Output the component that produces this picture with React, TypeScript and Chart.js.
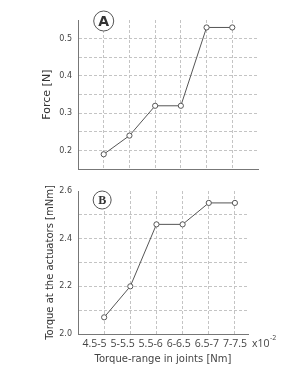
import React, { useEffect, useRef } from "react";
import { Chart, registerables } from "chart.js";

Chart.register(...registerables);

const categories = ["4.5-5", "5-5.5", "5.5-6", "6-6.5", "6.5-7", "7-7.5"];
const forceValues = [0.19, 0.24, 0.32, 0.32, 0.53, 0.53];
const torqueValues = [2.07, 2.2, 2.46, 2.46, 2.55, 2.55];
const forceTicks = [0.2, 0.3, 0.4, 0.5];
const torqueTicks = [2.0, 2.2, 2.4, 2.6];

const FONT = "'DejaVu Sans', sans-serif";
const XFONT = "'Open Sans', sans-serif";
const GRID = "#c4c4c4";
const AXIS = "#777";
const TXT = "#444";

function badge(letter: string, font: string, r: number, dy: number, dx: number) {
  return {
    id: "badge" + letter,
    afterDraw(chart: any) {
      const ctx = chart.ctx;
      const x = chart.scales.x.getPixelForValue(1) + dx;
      const y = chart.chartArea.top + dy;
      ctx.save();
      ctx.beginPath();
      ctx.arc(x, y, r, 0, Math.PI * 2);
      ctx.fillStyle = "#fff";
      ctx.fill();
      ctx.lineWidth = 1;
      ctx.strokeStyle = "#555";
      ctx.stroke();
      ctx.fillStyle = "#333";
      ctx.font = font;
      ctx.textAlign = "center";
      ctx.textBaseline = "middle";
      ctx.fillText(letter, x, y + 1);
      ctx.restore();
    },
  };
}

const expPlugin = {
  id: "exp",
  afterDraw(chart: any) {
    const ctx = chart.ctx;
    const x = chart.chartArea.right + 4;
    const y = chart.chartArea.bottom + 10;
    ctx.save();
    ctx.fillStyle = TXT;
    ctx.textBaseline = "middle";
    ctx.textAlign = "left";
    ctx.font = "10.5px " + XFONT;
    ctx.fillText("x10", x, y);
    const w = ctx.measureText("x10").width;
    ctx.font = "7px " + XFONT;
    ctx.fillText("-2", x + w + 0.5, y - 6);
    ctx.restore();
  },
};

function gridColorFn(min: number, max: number) {
  return (c: any) => {
    const v = c.tick ? c.tick.value : 0;
    if (Math.abs(v - min) < 1e-6 || Math.abs(v - max) < 1e-6) return "rgba(0,0,0,0)";
    return GRID;
  };
}

function makeConfig(opts: any) {
  const {
    values, yMin, yMax, yStep, yTicks, xMax, title, titlePad, titleSize,
    padding, xHeight, showX, plugins,
  } = opts;
  const scales: any = {
    x: {
      type: "linear",
      position: "bottom",
      weight: 1,
      min: 0,
      max: xMax,
      afterFit: (s: any) => { s.height = 0; },
      afterBuildTicks: (s: any) => {
        const t = [];
        for (let i = 0; i <= Math.floor(xMax); i++) t.push({ value: i });
        s.ticks = t;
      },
      grid: {
        drawTicks: false,
        color: gridColorFn(0, xMax),
        lineWidth: 1,
      },
      border: { display: true, color: AXIS, width: 1, dash: [3, 2] },
      ticks: { display: false },
    },
    y: {
      min: yMin,
      max: yMax,
      afterFit: (s: any) => { s.width = 78; },
      afterBuildTicks: (s: any) => {
        const t = [];
        const n = Math.round((yMax - yMin) / yStep);
        for (let i = 0; i <= n; i++) t.push({ value: yMin + i * yStep });
        s.ticks = t;
      },
      grid: {
        drawTicks: false,
        color: gridColorFn(yMin, yMax),
        lineWidth: 1,
      },
      border: { display: true, color: AXIS, width: 1, dash: [3, 2] },
      ticks: {
        padding: 6,
        color: TXT,
        font: { family: FONT, size: 8 },
        callback: (v: number) => {
          const m = yTicks.find((t: number) => Math.abs(t - v) < 1e-6);
          return m === undefined ? "" : m.toFixed(1);
        },
      },
      title: {
        display: true,
        text: title,
        color: "#333",
        font: { family: FONT, size: titleSize },
        padding: { top: titlePad, bottom: 0 },
      },
    },
  };
  if (showX) {
    // label axis: category labels set slightly wider than the grid spacing
    scales.xl = {
      type: "linear",
      position: "bottom",
      weight: 2,
      min: 0.413,
      max: 6.463,
      afterFit: (s: any) => { s.height = xHeight; },
      afterBuildTicks: (s: any) => {
        s.ticks = categories.map((_, i) => ({ value: i + 1 }));
      },
      grid: { display: false, drawTicks: false },
      border: { display: false },
      ticks: {
        autoSkip: false,
        maxRotation: 0,
        padding: 4,
        color: TXT,
        font: { family: XFONT, size: 10.5 },
        callback: (v: number) => categories[Math.round(v) - 1] || "",
      },
      title: {
        display: true,
        text: "Torque-range in joints [Nm]",
        color: TXT,
        font: { family: FONT, size: 10 },
        padding: { top: 0, bottom: 4 },
      },
    };
  }
  return {
    type: "line",
    data: {
      datasets: [
        {
          data: values.map((v: number, i: number) => ({ x: i + 1, y: v })),
          xAxisID: "x",
          borderColor: "#555",
          borderWidth: 1,
          pointRadius: 2.6,
          pointBackgroundColor: "#fff",
          pointBorderColor: "#555",
          pointBorderWidth: 1,
          tension: 0,
        },
      ],
    },
    options: {
      animation: false,
      responsive: false,
      maintainAspectRatio: false,
      layout: { padding },
      plugins: { legend: { display: false }, tooltip: { enabled: false } },
      scales,
    },
    plugins,
  };
}

function ChartCanvas({ config, width, height, top }: any) {
  const ref = useRef<HTMLCanvasElement | null>(null);
  useEffect(() => {
    if (!ref.current) return;
    const c = new Chart(ref.current, config);
    return () => c.destroy();
  }, []);
  return (
    <canvas
      ref={ref}
      width={width}
      height={height}
      style={{ position: "absolute", left: 0, top, width, height }}
    />
  );
}

export default function App() {
  const topCfg = makeConfig({
    values: forceValues,
    yMin: 0.15,
    yMax: 0.55,
    yStep: 0.05,
    yTicks: forceTicks,
    xMax: 7,
    title: "Force [N]",
    titlePad: 41,
    titleSize: 11,
    padding: { top: 20, right: 47, bottom: 6, left: 0 },
    xHeight: 0,
    showX: false,
    plugins: [badge("A", "bold 14px " + FONT, 10, 1, 0)],
  });
  const botCfg = makeConfig({
    values: torqueValues,
    yMin: 2.0,
    yMax: 2.6,
    yStep: 0.1,
    yTicks: torqueTicks,
    xMax: 6.5,
    title: "Torque at the actuators [mNm]",
    titlePad: 44,
    titleSize: 10,
    padding: { top: 11, right: 57, bottom: 0, left: 0 },
    xHeight: 35,
    showX: true,
    plugins: [badge("B", "bold 12px 'Liberation Serif', serif", 9, 9, -2), expPlugin],
  });
  return (
    <div style={{ position: "fixed", left: 0, top: 0, width: 305, height: 369, background: "#fff" }}>
      <ChartCanvas config={topCfg} width={305} height={180} top={0} />
      <ChartCanvas config={botCfg} width={305} height={189} top={180} />
    </div>
  );
}
